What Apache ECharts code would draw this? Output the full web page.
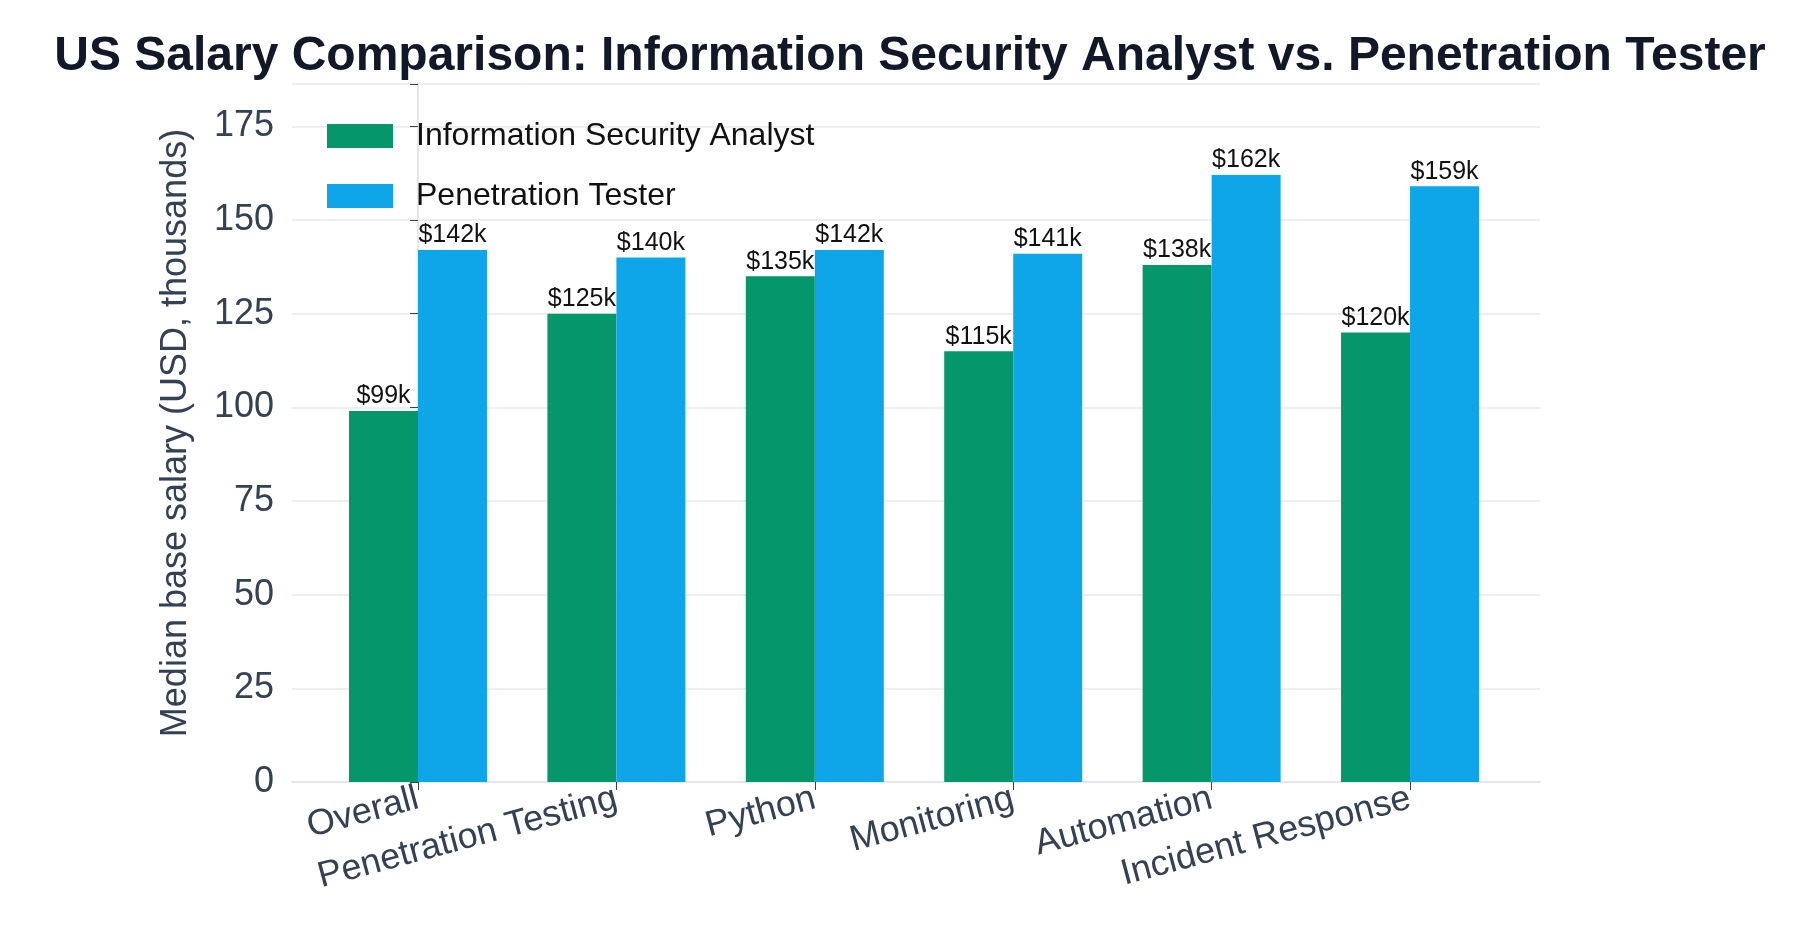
<!DOCTYPE html>
<html><head><meta charset="utf-8">
<script src="https://cdn.jsdelivr.net/npm/echarts@6/dist/echarts.min.js"></script>
<style>html,body{margin:0;padding:0;background:#fff}#c{width:1820px;height:947px}</style>
</head><body><div id="c"></div>
<script>
const categories = ["Overall","Penetration Testing","Python","Monitoring","Automation","Incident Response"];
const analyst = [99,125,135,115,138,120];
const pentester = [142,140,142,141,162,159];
const yTicks = [0,25,50,75,100,125,150,175];
const font = "Liberation Sans, Helvetica, Arial, sans-serif";
const idx = categories.map((c,i)=>i);
const chart = echarts.init(document.getElementById('c'));
const lbl = {show:true, position:'top', distance:2, formatter:p=>'$'+p.value[1]+'k', fontSize:25, color:'#111', fontFamily:font};
chart.setOption({
  animation:false,
  title:{text:'US Salary Comparison: Information Security Analyst vs. Penetration Tester', left:'center', top:28,
    textStyle:{fontSize:48, fontWeight:'bold', color:'#111827', fontFamily:font}},
  legend:{left:322, top:115, orient:'vertical', itemWidth:66, itemHeight:24, itemGap:28, icon:'rect',
    textStyle:{fontSize:32, color:'#111', fontFamily:font, padding:[0,0,0,18]}},
  grid:{left:292, right:280, top:84, bottom:165},
  xAxis:{type:'value', min:-0.635, max:5.655,
    axisLine:{show:true, onZero:false, lineStyle:{color:'#e5e7eb', width:2}},
    axisTick:{show:true, customValues:idx, length:8, lineStyle:{color:'#334155'}},
    splitLine:{show:false},
    axisLabel:{rotate:15, customValues:idx, fontSize:36, color:'#334155', fontFamily:font, margin:16,
      formatter:v=>categories[Math.round(v)]}},
  yAxis:{type:'value', min:0, max:186.3, interval:25,
    name:'Median base salary (USD, thousands)', nameLocation:'middle', nameGap:98,
    nameTextStyle:{fontSize:36, color:'#334155', fontFamily:font},
    axisLine:{show:true, lineStyle:{color:'#e5e7eb', width:2}},
    axisTick:{show:true, length:8, lineStyle:{color:'#334155'}},
    axisLabel:{fontSize:36, color:'#334155', fontFamily:font, margin:18,
      formatter:v=> yTicks.includes(v)?String(v):''},
    splitLine:{lineStyle:{color:'#eeeeee', width:2}}},
  series:[
    {name:'Information Security Analyst', type:'bar', data:analyst.map((v,i)=>[i,v]), barWidth:69, barGap:'0%',
      itemStyle:{color:'#059669'}, label:lbl},
    {name:'Penetration Tester', type:'bar', data:pentester.map((v,i)=>[i,v]), barWidth:69,
      itemStyle:{color:'#0EA5E9'}, label:lbl}
  ]
});
</script></body></html>
